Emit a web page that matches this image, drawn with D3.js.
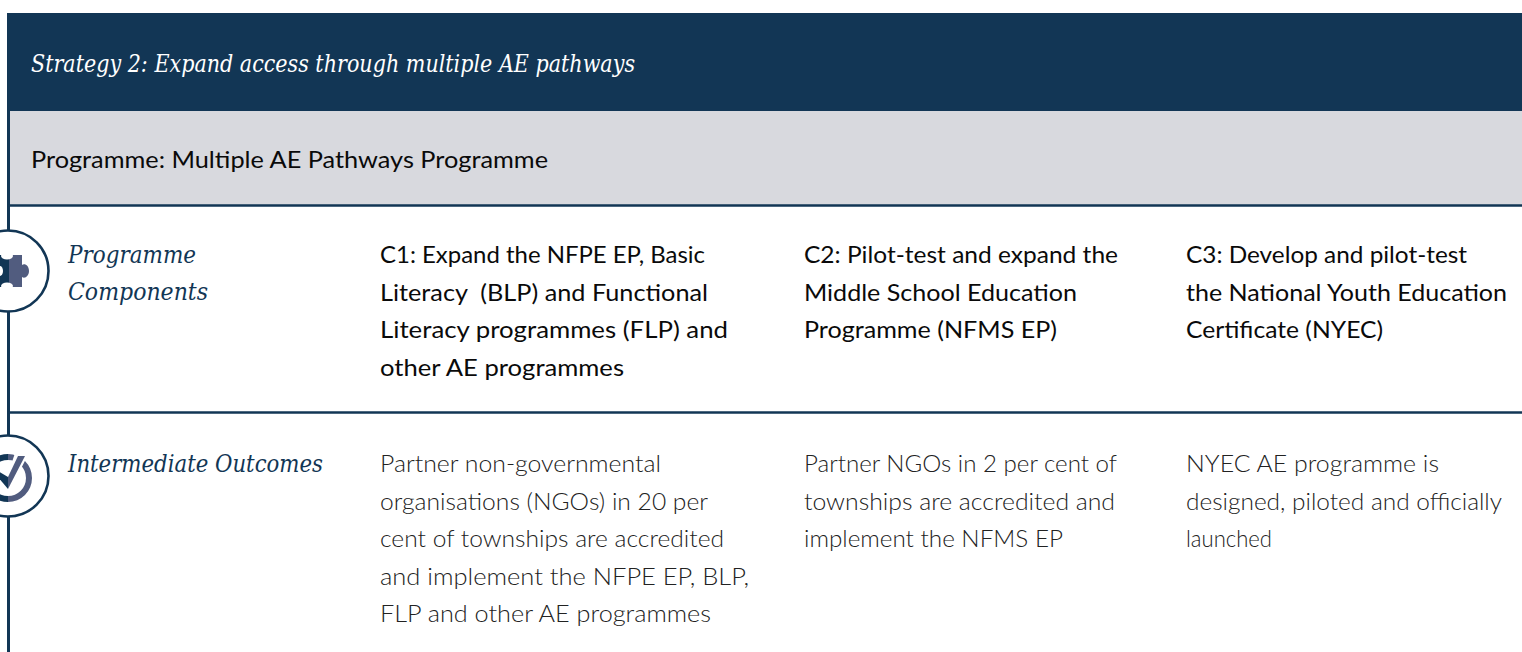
<!DOCTYPE html>
<html><head><meta charset="utf-8">
<script src="https://cdn.jsdelivr.net/npm/d3@7/dist/d3.min.js"></script>
<style>html,body{margin:0;padding:0;background:#fff;overflow:hidden}svg{display:block}</style>
</head><body><div id="c"></div>
<script>
const headerTitle = "Strategy 2: Expand access through multiple AE pathways";
const programmeTitle = "Programme: Multiple AE Pathways Programme";
const rowLabels = [["Programme","Components"],["Intermediate Outcomes"]];
const components = [
 ["C1: Expand the NFPE EP, Basic","Literacy  (BLP) and Functional","Literacy programmes (FLP) and","other AE programmes"],
 ["C2: Pilot-test and expand the","Middle School Education","Programme (NFMS EP)"],
 ["C3: Develop and pilot-test","the National Youth Education","Certificate (NYEC)"]
];
const outcomes = [
 ["Partner non-governmental","organisations (NGOs) in 20 per","cent of townships are accredited","and implement the NFPE EP, BLP,","FLP and other AE programmes"],
 ["Partner NGOs in 2 per cent of","townships are accredited and","implement the NFMS EP"],
 ["NYEC AE programme is","designed, piloted and officially","launched"]
];
const componentWidths = [[325,328,348,244],[314,273,253],[281,321,197]];
const outcomeWidths = [[281,328,344,369,331],[313,311,259],[253,316,86]];
const labelWidths = [[128,140],[255]];
const W=1522,H=652,navy="#123655",slate="#515c7f",grey="#d8d9de";
const SERIF="'DejaVu Serif',serif", SANS="Lato,'Noto Sans',sans-serif";
const svg=d3.select("#c").append("svg").attr("width",W).attr("height",H);
const colX=[380,804,1186];
const lineStep=37.5;
const fit=(s,w)=>s.attr("textLength",w).attr("lengthAdjust","spacingAndGlyphs");

svg.append("rect").attr("x",7).attr("y",13).attr("width",W-7).attr("height",98).attr("fill",navy);
svg.append("rect").attr("x",10).attr("y",111).attr("width",W-10).attr("height",94).attr("fill",grey);
svg.append("line").attr("x1",8.5).attr("x2",8.5).attr("y1",13).attr("y2",H).attr("stroke",navy).attr("stroke-width",3);
[205.5,412.5].forEach(y=>svg.append("line").attr("x1",8).attr("x2",W).attr("y1",y).attr("y2",y).attr("stroke",navy).attr("stroke-width",2.4));

fit(svg.append("text").attr("x",31).attr("y",72).attr("fill","#fff").attr("font-family",SERIF).attr("font-style","italic").attr("font-size",24.5),604).text(headerTitle);
fit(svg.append("text").attr("x",31).attr("y",168).attr("fill","#0a0a0a").attr("font-family",SANS).attr("font-size",23.5),517).text(programmeTitle);

function labels(lines,widths,y0,step){
 svg.append("g").selectAll("text").data(lines).join("text")
  .attr("x",68).attr("y",(d,i)=>y0+i*step).attr("fill",navy).attr("font-family",SERIF).attr("font-style","italic").attr("font-size",24.5)
  .attr("textLength",(d,i)=>widths[i]).attr("lengthAdjust","spacingAndGlyphs").text(d=>d);
}
labels(rowLabels[0],labelWidths[0],263,37);
labels(rowLabels[1],labelWidths[1],472,37);

function block(data,widths,y0,color,weight){
 data.forEach((lines,c)=>{
  svg.append("g").selectAll("text").data(lines).join("text")
   .attr("x",colX[c]).attr("y",(d,i)=>y0+i*lineStep).attr("fill",color)
   .attr("font-family",SANS).attr("font-weight",weight).attr("font-size",23.5)
   .attr("textLength",(d,i)=>widths[c][i]).attr("lengthAdjust","spacingAndGlyphs").style("white-space","pre").text(d=>d);
 });
}
block(components,componentWidths,263,"#0a0a0a",400);
block(outcomes,outcomeWidths,472,"#222",300);

[271,476].forEach(cy=>svg.append("circle").attr("cx",8).attr("cy",cy).attr("r",40.5).attr("fill","#fff").attr("stroke",navy).attr("stroke-width",2.6));

// puzzle icon
const pz=svg.append("g");
pz.append("rect").attr("x",0).attr("y",255).attr("width",9).attr("height",32).attr("fill",navy);
pz.append("path").attr("fill",slate).attr("d","M9 255H22V265C25 263 29 266 29 271C29 276 25 279 22 277V287H9Z");
pz.append("ellipse").attr("cx",7).attr("cy",256).attr("rx",6).attr("ry",3.5).attr("fill","#fff");
pz.append("ellipse").attr("cx",7).attr("cy",286).attr("rx",6).attr("ry",3.5).attr("fill","#fff");
pz.append("ellipse").attr("cx",0).attr("cy",271).attr("rx",3).attr("ry",5).attr("fill","#fff");
// check icon
const ck=svg.append("g");
const arc=d3.arc().innerRadius(18).outerRadius(24);
ck.append("path").attr("transform","translate(8,478)").attr("fill",slate).attr("d",arc({startAngle:0,endAngle:Math.PI}));
ck.append("path").attr("transform","translate(8,478)").attr("fill",navy).attr("d",arc({startAngle:Math.PI,endAngle:Math.PI*2}));
ck.append("path").attr("fill","#fff").attr("d","M15 453H29L8 494L-4 478L8 474Z");
ck.append("path").attr("fill",slate).attr("d","M8 477L18 456H25L8 489Z");
ck.append("path").attr("fill",navy).attr("d","M-2 471L8 477V489L-2 477Z");
</script></body></html>
